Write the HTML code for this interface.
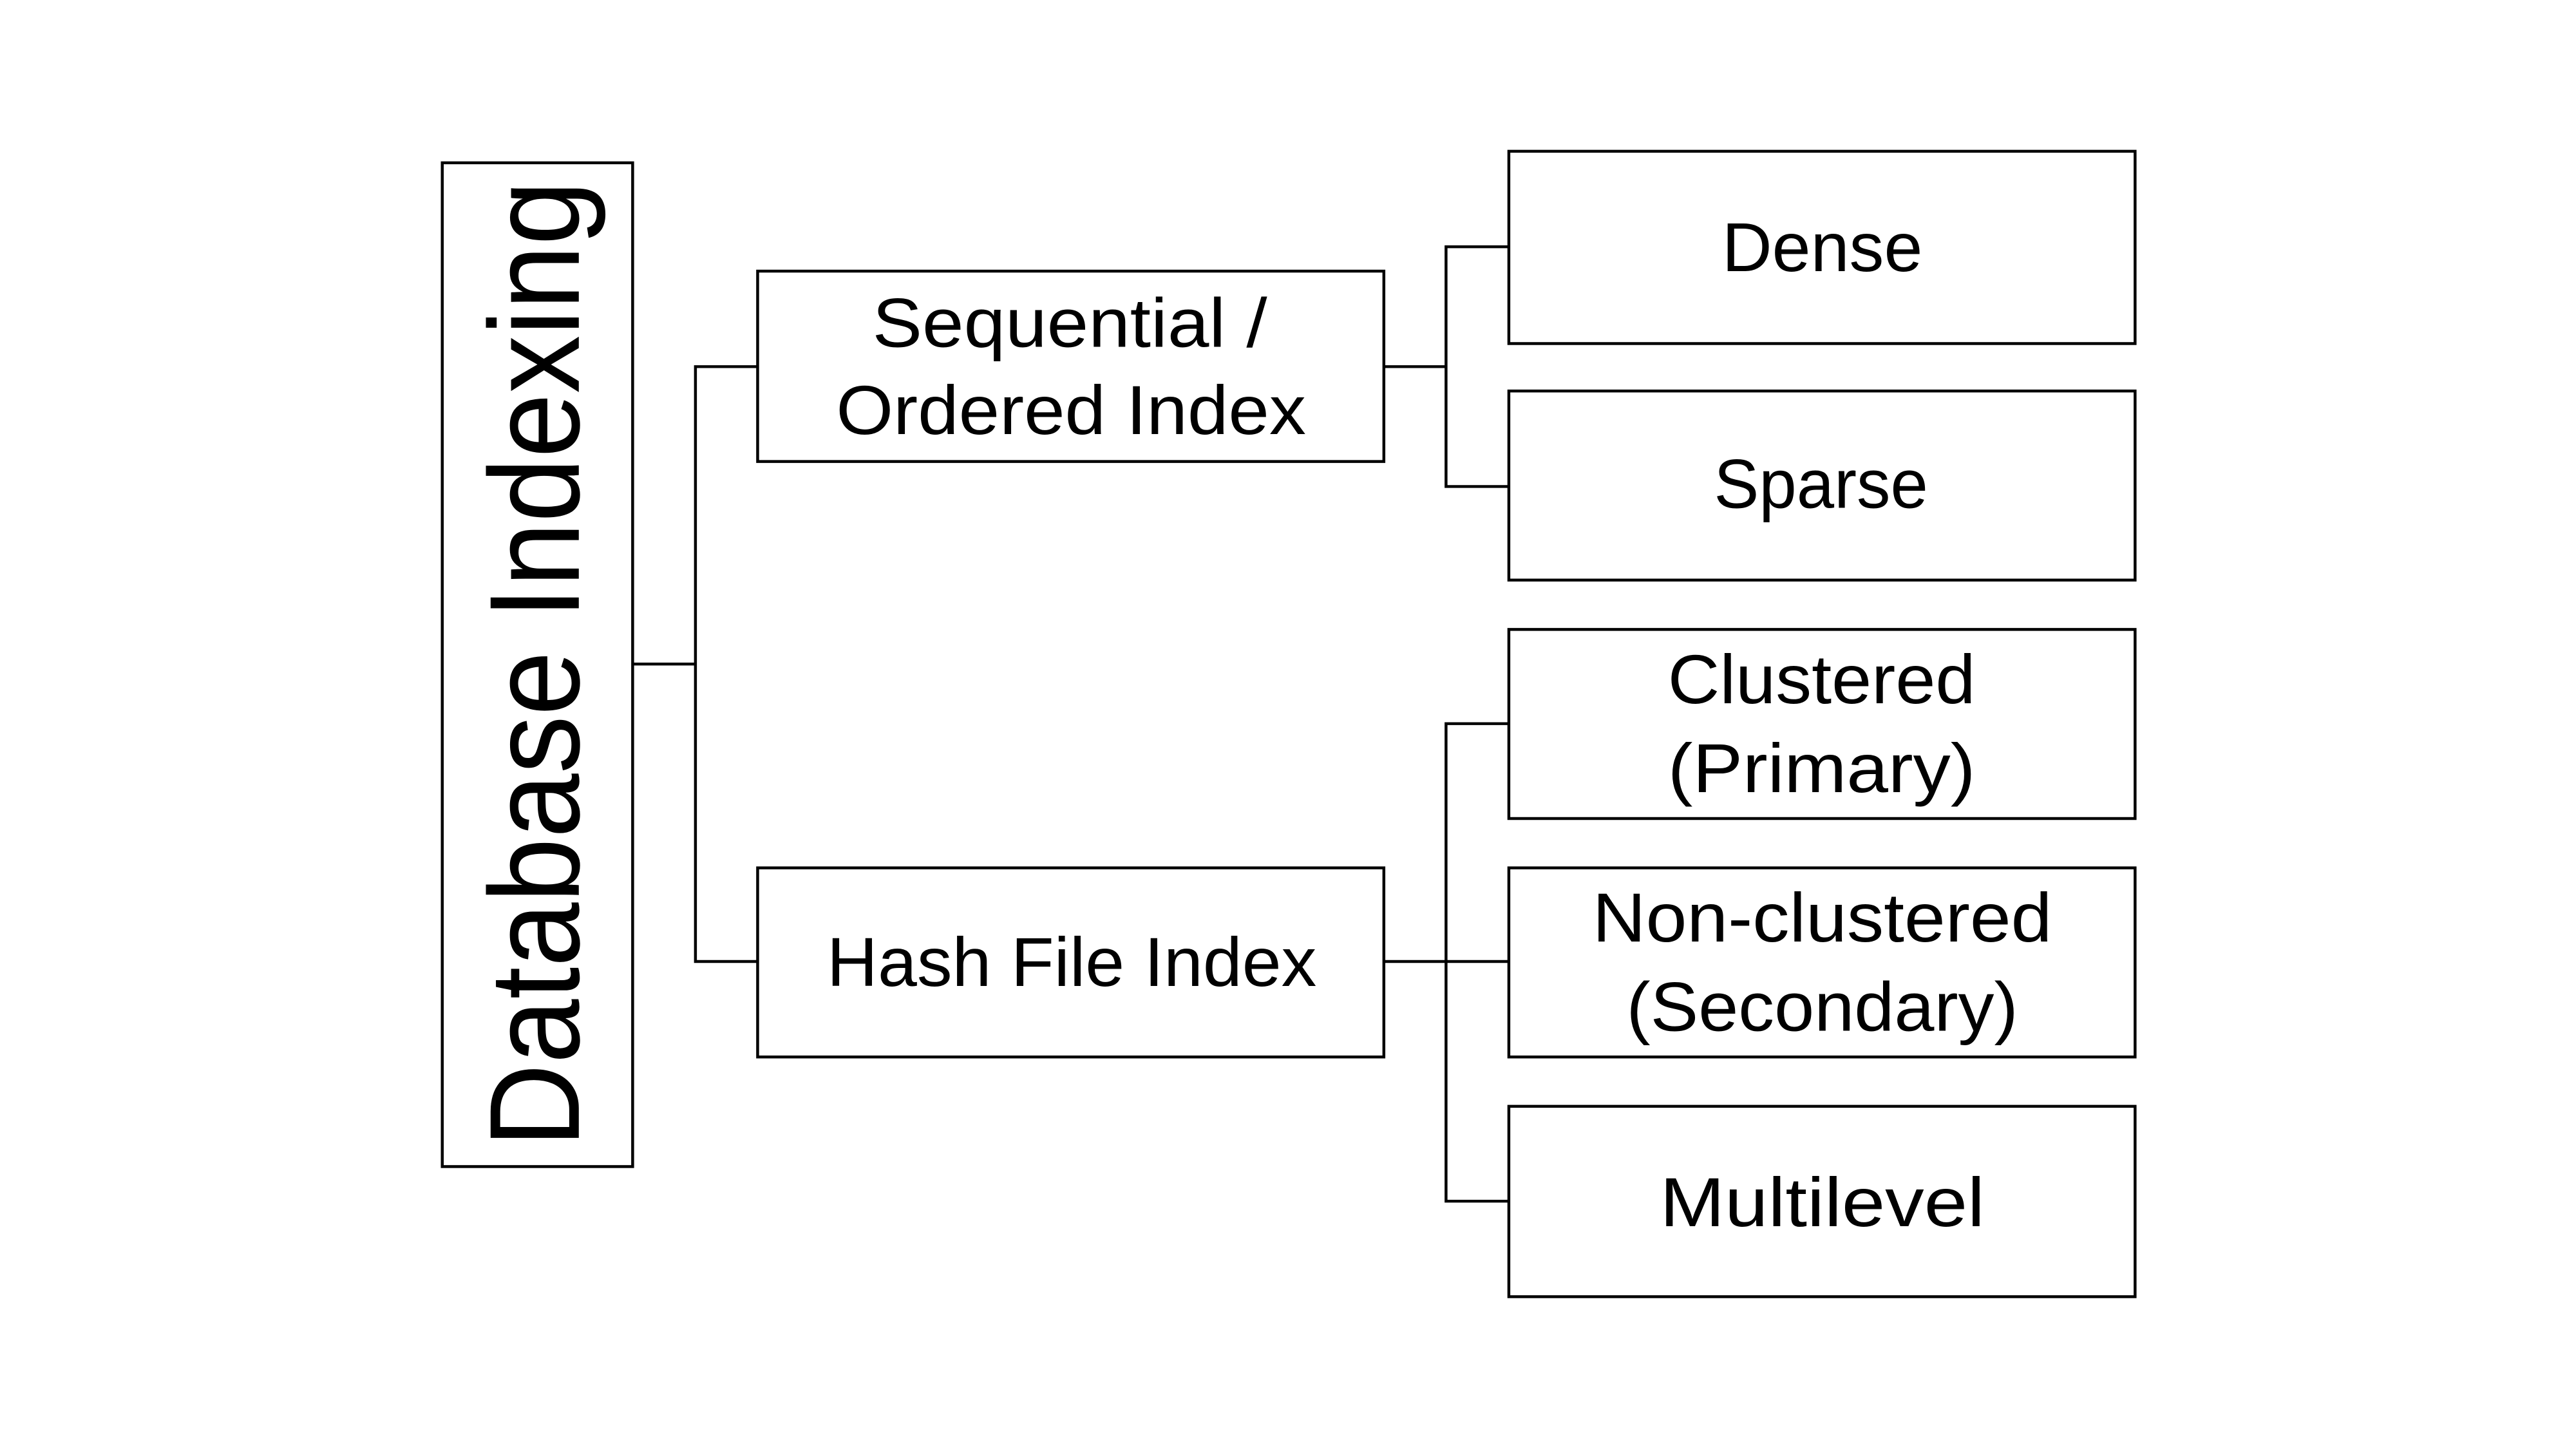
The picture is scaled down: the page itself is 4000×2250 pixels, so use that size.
<!DOCTYPE html>
<html><head><style>html,body{margin:0;padding:0;background:#fff;}svg{display:block}</style></head>
<body>
<svg width="4000" height="2250" viewBox="0 0 4000 2250" xmlns="http://www.w3.org/2000/svg">
<rect width="4000" height="2250" fill="#fff"/>
<g transform="scale(0.9953)">
<g fill="none" stroke="#000" stroke-width="4.5">
<rect x="690" y="254" width="297" height="1566"/>
<rect x="1182" y="423" width="977" height="297"/>
<rect x="1182" y="1354" width="977" height="295"/>
<rect x="2354" y="236" width="977" height="300"/>
<rect x="2354" y="610" width="977" height="295"/>
<rect x="2354" y="982" width="977" height="295"/>
<rect x="2354" y="1354" width="977" height="295"/>
<rect x="2354" y="1726" width="977" height="297"/>
<polyline points="987,1036 1085,1036"/>
<polyline points="1182,572 1085,572 1085,1500 1182,1500"/>
<polyline points="2159,572 2256,572"/>
<polyline points="2354,385 2256,385 2256,759 2354,759"/>
<polyline points="2159,1500 2354,1500"/>
<polyline points="2354,1129 2256,1129 2256,1874 2354,1874"/>
</g>
<g font-family="Liberation Sans, sans-serif" font-size="108" fill="#000" text-anchor="middle">
<text x="2843" y="423" textLength="313" lengthAdjust="spacingAndGlyphs">Dense</text>
<text x="2841" y="792" textLength="334" lengthAdjust="spacingAndGlyphs">Sparse</text>
<text x="2842" y="1097" textLength="480" lengthAdjust="spacingAndGlyphs">Clustered</text>
<text x="2842" y="1236" textLength="480" lengthAdjust="spacingAndGlyphs">(Primary)</text>
<text x="2843" y="1469" textLength="717" lengthAdjust="spacingAndGlyphs">Non-clustered</text>
<text x="2843" y="1608" textLength="611" lengthAdjust="spacingAndGlyphs">(Secondary)</text>
<text x="2843" y="1913" textLength="507" lengthAdjust="spacingAndGlyphs">Multilevel</text>
<text x="1669" y="541" textLength="616" lengthAdjust="spacingAndGlyphs">Sequential /</text>
<text x="1671" y="677" textLength="733" lengthAdjust="spacingAndGlyphs">Ordered Index</text>
<text x="1672" y="1538" textLength="764" lengthAdjust="spacingAndGlyphs">Hash File Index</text>
<text x="0" y="0" font-size="200" transform="translate(903,1036) rotate(-90)" textLength="1508" lengthAdjust="spacingAndGlyphs">Database Indexing</text>
</g>
</g>
</svg>
</body></html>
